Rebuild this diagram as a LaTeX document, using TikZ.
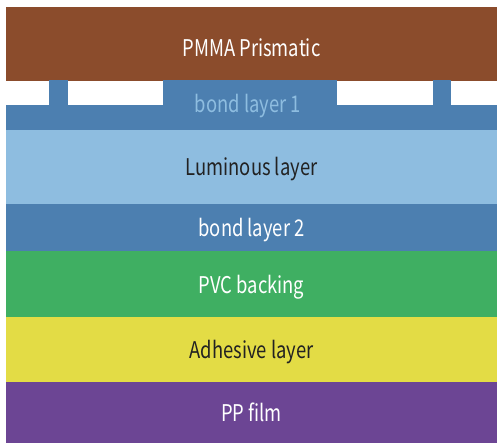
\documentclass[tikz,border=0pt]{standalone}
\usepackage{fontspec}
\setmainfont{Noto Sans CJK SC}
\usepackage{tikz}
\usetikzlibrary{positioning}
\definecolor{pmmabrown}{HTML}{8B4C2C}
\definecolor{bondblue}{HTML}{4C7FB0}
\definecolor{lumblue}{HTML}{8EBDE0}
\definecolor{pvcgreen}{HTML}{3FAF62}
\definecolor{adhyellow}{HTML}{E3DC45}
\definecolor{pppurple}{HTML}{6C4594}
\definecolor{darktext}{HTML}{222222}
\newcommand{\slim}[1]{\scalebox{0.8}[1]{#1}}
\begin{document}
\begin{tikzpicture}[x=1pt,y=-1pt,
  layer/.style={rectangle,inner sep=0pt,outer sep=0pt,minimum width=491pt,
    font=\fontsize{23}{23}\selectfont,text=white,text height=18pt,text depth=0pt}]
\useasboundingbox (0,0) rectangle (497,443);
% top sheet
\node[layer,fill=pmmabrown,minimum height=74pt,text height=25pt] (pmma) at (251.5,44) {\slim{PMMA Prismatic}};
% bond layer 1 with its pillars
\node[layer,fill=bondblue,minimum height=25pt,below=24pt of pmma] (bond1) {};
\fill[bondblue] (49,80.5) rectangle (67.5,105.5);
\fill[bondblue] (163,80.5) rectangle (336.5,105.5);
\fill[bondblue] (432.5,80.5) rectangle (451,105.5);
\node[font=\fontsize{23}{23}\selectfont,text=lumblue,inner sep=0pt,text height=18pt,text depth=0pt] (bond1txt) at (248,104) {\slim{bond layer 1}};
% lower layers
\node[layer,fill=lumblue,minimum height=74pt,text=darktext,below=0pt of bond1] (lum) {\slim{Luminous layer}};
\node[layer,fill=bondblue,minimum height=47pt,below=0pt of lum] (bond2) {\slim{bond layer 2}};
\node[layer,fill=pvcgreen,minimum height=66pt,below=0pt of bond2] (pvc) {\slim{PVC backing}};
\node[layer,fill=adhyellow,minimum height=65pt,text=darktext,below=0pt of pvc] (adh) {\slim{Adhesive layer}};
\node[layer,fill=pppurple,minimum height=61pt,below=0pt of adh] (pp) {\slim{PP film}};
\end{tikzpicture}
\end{document}
